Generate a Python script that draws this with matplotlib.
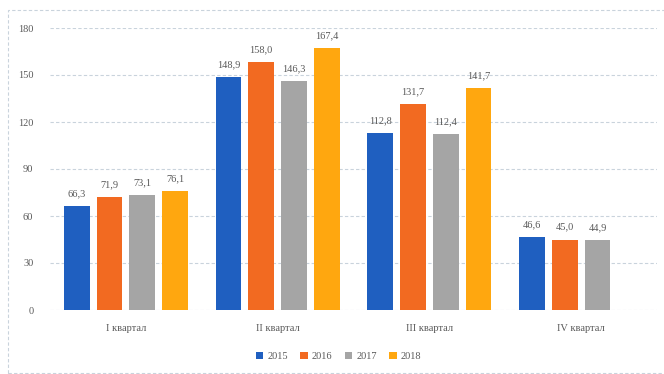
import matplotlib
matplotlib.use("Agg")
import matplotlib.pyplot as plt
import numpy as np
from matplotlib.patches import Rectangle

categories = ["I квартал", "II квартал", "III квартал", "IV квартал"]
years = ["2015", "2016", "2017", "2018"]
v2015 = [66.3, 148.9, 112.8, 46.6]
v2016 = [71.9, 158.0, 131.7, 45.0]
v2017 = [73.1, 146.3, 112.4, 44.9]
v2018 = [76.1, 167.4, 141.7, np.nan]
series = [v2015, v2016, v2017, v2018]
colors = ["#1F5FC0", "#F26A21", "#A5A5A5", "#FFA70F"]
yticks = [0, 30, 60, 90, 120, 150, 180]

plt.rcParams['font.family'] = ['Liberation Serif', 'DejaVu Sans']
fig = plt.figure(figsize=(6.64, 3.74), dpi=100)
ax = fig.add_axes([50/664, 1-310/374, 607/664, 282/374])

x = np.arange(len(categories))
step = 0.216
width = 0.17
for i, (vals, c, yr) in enumerate(zip(series, colors, years)):
    pos = x + (i - 1.5) * step
    ax.bar(pos, vals, width=width, color=c, label=yr, zorder=3)
    for p, v in zip(pos, vals):
        if not np.isnan(v):
            ax.text(p, v + 5, f"{v:.1f}".replace(".", ","), ha="center", va="bottom",
                    fontsize=7.5, color="#595959")

ax.set_xlim(-0.5, 3.5)
ax.set_ylim(0, 180)
ax.set_yticks(yticks)
ax.set_yticklabels([str(t) for t in yticks], fontsize=7.5, color="#595959")
ax.set_xticks(x)
ax.set_xticklabels(categories, fontsize=7.5, color="#595959")
ax.tick_params(axis="both", length=0, pad=10)
ax.tick_params(axis="y", pad=12)
ax.yaxis.grid(True, linestyle=(0, (3, 2)), color="#C9D3DC", linewidth=0.8, zorder=0)
for s in ax.spines.values():
    s.set_visible(False)

fig.legend(loc="lower center", ncol=4, bbox_to_anchor=(0.51, 0.01), frameon=False,
           fontsize=7.5, handlelength=0.7, handleheight=0.7, columnspacing=1.2,
           handletextpad=0.4, labelcolor="#595959")

fig.patches.append(Rectangle((8/664, 0.002), 1, 1-10/374-0.002, transform=fig.transFigure,
                             fill=False, edgecolor="#C9D3DC", linestyle=(0, (3, 2)),
                             linewidth=0.8))

fig.savefig("out.png", dpi=100)
